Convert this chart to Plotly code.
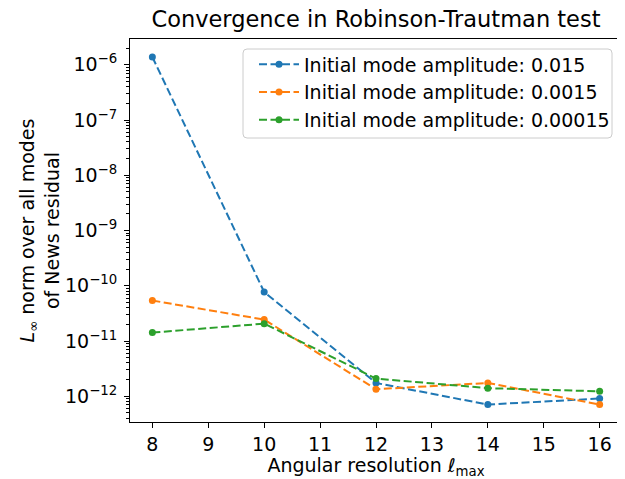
import plotly.graph_objects as go
import numpy as np

lmax = [8, 10, 12, 14, 16]
amp_0015 = [1.38e-6, 7.7e-11, 1.74e-12, 7.07e-13, 9.1e-13]
amp_00015 = [5.4e-11, 2.44e-11, 1.34e-12, 1.74e-12, 7.07e-13]
amp_000015 = [1.42e-11, 2.06e-11, 2.09e-12, 1.4e-12, 1.23e-12]
series_names = ["Initial mode amplitude: 0.015",
                "Initial mode amplitude: 0.0015",
                "Initial mode amplitude: 0.00015"]
colors = ["#1f77b4", "#ff7f0e", "#2ca02c"]
x_ticks = [8, 9, 10, 11, 12, 13, 14, 15, 16]
y_exps = [-12, -11, -10, -9, -8, -7, -6]

FONT = "DejaVu Sans"
FS = 19
OFF = 8  # page body margin offset
W, H = 625 - OFF, 479 - OFF
PL, PR, PT, PB = 130, 622, 39, 422  # plot area in page pixels
PW, PH = PR - PL, PB - PT


def px(x):
    return (x - PL) / PW


def py(y):
    return (PB - y) / PH


fig = go.Figure()
for name, vals, c in zip(series_names, [amp_0015, amp_00015, amp_000015], colors):
    fig.add_trace(go.Scatter(
        x=lmax, y=vals, name=name, mode="lines+markers",
        line=dict(color=c, width=2, dash="8px,3.5px"),
        marker=dict(color=c, size=7, symbol="circle"),
    ))

minor_vals = [m * 10.0 ** e for e in range(-13, -5) for m in range(2, 10)]

# legend frame (rounded rectangle) in paper coordinates
lx0, lx1, ly0, ly1, r = 243, 612, 49, 138, 4
rx, ry = r / PW, r / PH
X0, X1, Y0, Y1 = px(lx0), px(lx1), py(ly1), py(ly0)
path = (f"M {X0+rx},{Y1} L {X1-rx},{Y1} Q {X1},{Y1} {X1},{Y1-ry} "
        f"L {X1},{Y0+ry} Q {X1},{Y0} {X1-rx},{Y0} L {X0+rx},{Y0} "
        f"Q {X0},{Y0} {X0},{Y0+ry} L {X0},{Y1-ry} Q {X0},{Y1} {X0+rx},{Y1} Z")

fig.update_layout(
    width=W, height=H,
    margin=dict(l=PL - OFF, r=3, t=PT - OFF, b=479 - PB, autoexpand=False),
    paper_bgcolor="white", plot_bgcolor="white",
    font=dict(family=FONT, size=FS, color="black"),
    title=dict(text="Convergence in Robinson-Trautman test",
               x=0.5, xref="paper", xanchor="center",
               y=1 - (19 - OFF) / H, yref="container", yanchor="middle",
               font=dict(size=22.5, family=FONT, color="black")),
    showlegend=True,
    legend=dict(x=px(254), y=py(45.5), xanchor="left", yanchor="top",
                bgcolor="rgba(0,0,0,0)", borderwidth=0,
                font=dict(size=FS, family=FONT), itemwidth=40,
                tracegroupgap=0),
    shapes=[dict(type="path", path=path, xref="paper", yref="paper",
                 line=dict(color="#cccccc", width=1),
                 fillcolor="rgba(255,255,255,0.8)", layer="above")],
)
fig.update_xaxes(
    range=[7.6, 16.4], tickmode="array", tickvals=x_ticks,
    ticktext=[str(t) for t in x_ticks], automargin=False,
    showgrid=False, zeroline=False, showline=True, linecolor="black",
    linewidth=1, mirror=True, ticks="outside", ticklen=5, tickcolor="black",
    tickfont=dict(size=FS, family=FONT),
    title=dict(text="Angular resolution <i>ℓ</i><sub>max</sub>",
               font=dict(size=FS, family=FONT), standoff=4),
)
fig.update_yaxes(
    type="log", range=[-12.466, -5.534], tickmode="array",
    tickvals=[10.0 ** e for e in y_exps],
    ticktext=["10<sup>\u2212%d</sup>" % (-e) for e in y_exps],
    automargin=False, ticklabelstandoff=3,
    showgrid=False, zeroline=False, showline=True, linecolor="black",
    linewidth=1, mirror=True, ticks="outside", ticklen=5, tickcolor="black",
    tickfont=dict(size=FS, family=FONT),
    minor=dict(tickmode="array", tickvals=minor_vals, ticks="outside",
               ticklen=3, tickcolor="black", showgrid=False),
    title=dict(text="<i>L</i><sub>\u221e</sub> norm over all modes<br>of News residual",
               font=dict(size=FS, family=FONT), standoff=0),
)

fig.write_html("out.html")
